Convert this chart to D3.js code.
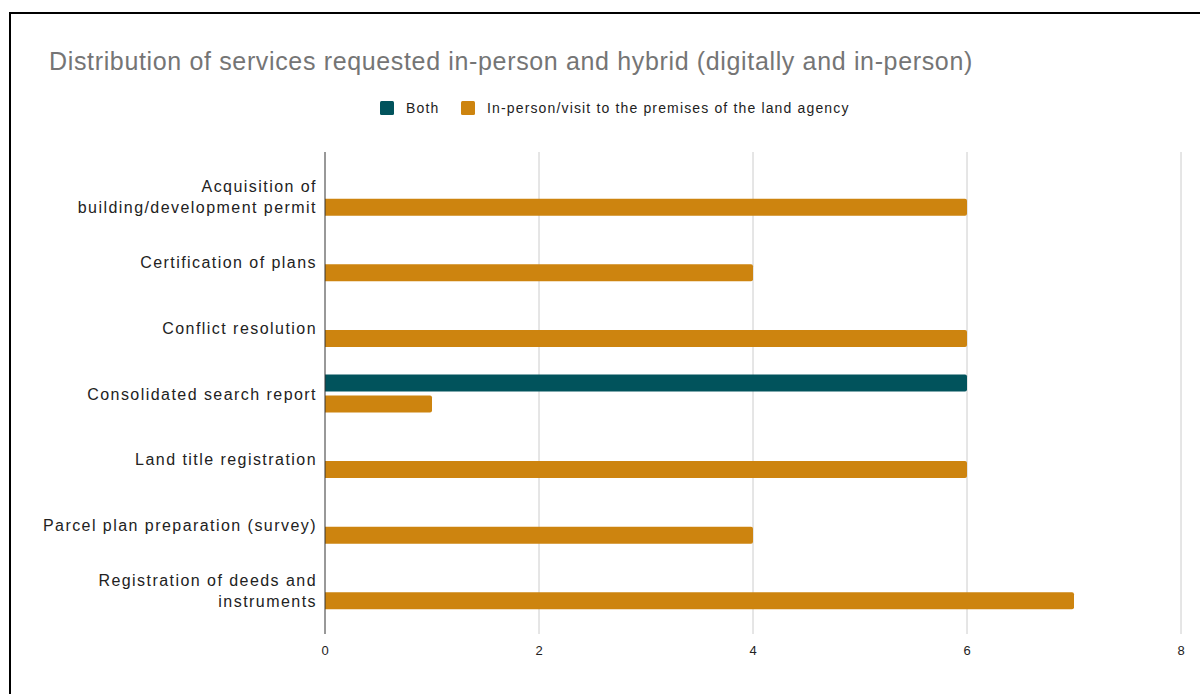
<!DOCTYPE html>
<html>
<head>
<meta charset="utf-8">
<script src="https://cdn.jsdelivr.net/npm/d3@7"></script>
<style>
  body { margin: 0; background: #fff; }
  svg { display: block; font-family: "Liberation Sans", Arial, sans-serif; }
</style>
</head>
<body>
<div id="chart"></div>
<script>
var w = 1200;
var h = 694;

// data
var categories = [
  ["Acquisition of", "building/development permit"],
  ["Certification of plans"],
  ["Conflict resolution"],
  ["Consolidated search report"],
  ["Land title registration"],
  ["Parcel plan preparation (survey)"],
  ["Registration of deeds and", "instruments"]
];
var seriesNames = ["Both", "In-person/visit to the premises of the land agency"];
var bothValues = [0, 0, 0, 6, 0, 0, 0];
var inPersonValues = [6, 4, 6, 1, 6, 4, 7];
var xTicks = [0, 2, 4, 6, 8];
var colors = ["#01535c", "#cd840f"];

var svg = d3.select("#chart")
  .append("svg")
  .attr("width", w)
  .attr("height", h);

// outer border
svg.append("rect")
  .attr("x", 10)
  .attr("y", 13)
  .attr("width", w + 20)
  .attr("height", h + 20)
  .attr("fill", "none")
  .attr("stroke", "#000")
  .attr("stroke-width", 2);

svg.append("text")
  .attr("x", 49)
  .attr("y", 70)
  .attr("font-size", 25)
  .attr("letter-spacing", 0.65)
  .attr("fill", "#757575")
  .text("Distribution of services requested in-person and hybrid (digitally and in-person)");

// legend
var legendX = [380, 461];
seriesNames.forEach(function(name, i) {
  svg.append("rect")
    .attr("x", legendX[i])
    .attr("y", 101)
    .attr("width", 14)
    .attr("height", 14)
    .attr("rx", 1.5)
    .attr("fill", colors[i]);
  svg.append("text")
    .attr("x", legendX[i] + 26)
    .attr("y", 113)
    .attr("font-size", 14)
    .attr("letter-spacing", 1.15)
    .attr("fill", "#222")
    .text(name);
});

var x = d3.scaleLinear().domain([0, 8]).range([325, 1181]);
var idx = d3.range(categories.length);
var y = d3.scaleBand().domain(idx).range([164, 623]);

// grid
svg.selectAll("line.grid")
  .data(xTicks.slice(1))
  .enter()
  .append("line")
  .attr("class", "grid")
  .attr("x1", function(d) { return x(d); })
  .attr("x2", function(d) { return x(d); })
  .attr("y1", 152)
  .attr("y2", 634)
  .attr("stroke", "#cccccc")
  .attr("stroke-width", 1);

// tick labels
svg.selectAll("text.tick")
  .data(xTicks)
  .enter()
  .append("text")
  .attr("class", "tick")
  .attr("x", function(d) { return x(d); })
  .attr("y", 655)
  .attr("text-anchor", "middle")
  .attr("font-size", 13)
  .attr("fill", "#222")
  .text(function(d) { return d; });

// bars
var barH = 17;
function barPath(x0, x1, y0, hh, r) {
  var wdt = x1 - x0;
  if (wdt <= 0) return "";
  r = Math.min(r, wdt);
  return "M" + x0 + "," + y0 +
    "H" + (x1 - r) +
    "Q" + x1 + "," + y0 + " " + x1 + "," + (y0 + r) +
    "V" + (y0 + hh - r) +
    "Q" + x1 + "," + (y0 + hh) + " " + (x1 - r) + "," + (y0 + hh) +
    "H" + x0 + "Z";
}

svg.selectAll("path.both")
  .data(bothValues)
  .enter()
  .append("path")
  .attr("class", "both")
  .attr("fill", colors[0])
  .attr("d", function(d, i) {
    var c = y(i) + y.bandwidth() / 2;
    return barPath(x(0), x(d), c - 19, barH, 2);
  });

svg.selectAll("path.inperson")
  .data(inPersonValues)
  .enter()
  .append("path")
  .attr("class", "inperson")
  .attr("fill", colors[1])
  .attr("d", function(d, i) {
    var c = y(i) + y.bandwidth() / 2;
    return barPath(x(0), x(d), c + 2, barH, 2);
  });

// zero axis line
svg.append("line")
  .attr("x1", x(0))
  .attr("x2", x(0))
  .attr("y1", 152)
  .attr("y2", 634)
  .attr("stroke", "#333")
  .attr("stroke-width", 1);

// category labels
idx.forEach(function(i) {
  var lines = categories[i];
  var c = y(i) + y.bandwidth() / 2;
  var lh = 21;
  var t = svg.append("text")
    .attr("text-anchor", "end")
    .attr("font-size", 16)
    .attr("letter-spacing", 1.45)
    .attr("fill", "#222");
  lines.forEach(function(l, k) {
    t.append("tspan")
      .attr("x", 317)
      .attr("y", c + 6 - (lines.length - 1) * lh / 2 + k * lh)
      .text(l);
  });
});
</script>
</body>
</html>
